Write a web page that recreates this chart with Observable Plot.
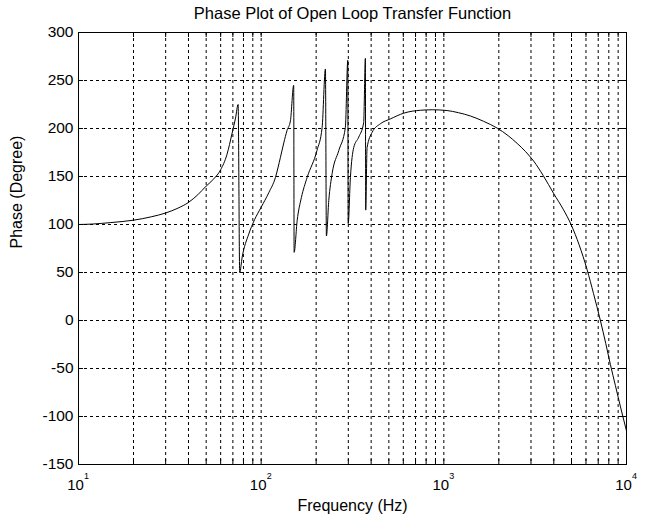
<!DOCTYPE html>
<html>
<head>
<meta charset="utf-8">
<script src="https://cdn.jsdelivr.net/npm/d3@7"></script>
<script src="https://cdn.jsdelivr.net/npm/@observablehq/plot@0.6"></script>
<style>
  html, body { margin: 0; padding: 0; background: #fff; }
  svg { display: block; }
</style>
</head>
<body>
<div id="chart"></div>
<script>
const titleText = "Phase Plot of Open Loop Transfer Function";
const xLabelText = "Frequency (Hz)";
const yLabelText = "Phase (Degree)";

// Frequency (Hz) and phase (degrees)
const freq = [10, 12, 15, 20, 25, 30, 35, 40, 45, 50,
  55, 60, 65, 69.3, 72.4, 74.8, 76.3, 78.7, 85.5, 92,
  100, 110, 119.7, 127.5, 133, 138.6, 144.6, 150.7, 151.5, 157.4,
  166, 178.5, 202, 215.6, 224.8, 227.6, 234.5, 244.6, 266, 289,
  298, 299.5, 308, 321, 342, 364, 372, 373.5, 380, 405,
  450, 510, 604, 745, 870, 1042, 1200, 1400, 1650, 1959,
  2250, 2519, 2800, 3104, 3500, 4000, 4500, 5000, 5500, 6085,
  6600, 7195, 7700, 8166, 8700, 9270, 10000];
const phase = [100, 100.5, 102, 104.5, 108, 112, 117, 123, 131, 140,
  147.5, 157, 173, 195, 211, 225, 50, 66, 90, 105,
  118, 133, 149, 170, 185, 198, 208, 245, 71, 104,
  128, 149, 177, 201, 262, 88, 125, 153, 177, 201,
  271, 101, 149, 180, 191, 206, 273, 115, 180, 196,
  205, 210, 216, 219, 219.5, 218.7, 216.5, 213, 207.5, 200.4,
  192.5, 184.5, 176, 166, 151, 132, 116, 99, 79, 53,
  28, 0, -24, -46, -68, -90, -115];

const yTicks = [-150, -100, -50, 0, 50, 100, 150, 200, 250, 300];
const xDecades = [10, 100, 1000, 10000];
const xExponents = ["1", "2", "3", "4"];
const xMinor = [20, 30, 40, 50, 60, 70, 80, 90, 200, 300, 400, 500, 600, 700, 800, 900,
  2000, 3000, 4000, 5000, 6000, 7000, 8000, 9000];

const data = freq.map((f, i) => ({f, p: phase[i]}));
const xGrid = xMinor.concat([100, 1000]);
const yGrid = yTicks.slice(1, -1);

const W = 649, H = 521;
const mL = 78, mR = 23, mT = 32, mB = 57;
const plotW = W - mL - mR, plotH = H - mT - mB;
const font = "'Liberation Sans', Arial, Helvetica, sans-serif";

const chart = Plot.plot({
  width: W, height: H,
  marginLeft: mL, marginRight: mR, marginTop: mT, marginBottom: mB,
  x: {type: "log", domain: [10, 10000], axis: null},
  y: {domain: [-150, 300], axis: null},
  style: {fontFamily: font, fontSize: "15px", background: "#fff", color: "#000"},
  marks: [
    Plot.ruleX(xGrid, {x: d => d, stroke: "#000", strokeWidth: 1, strokeDasharray: "3,3"}),
    Plot.ruleY(yGrid, {y: d => d, stroke: "#000", strokeWidth: 1, strokeDasharray: "3,3"}),
    // inward tick marks
    Plot.ruleX(xGrid, {x: d => d, insetTop: plotH - 5, stroke: "#000"}),
    Plot.ruleX(xGrid, {x: d => d, insetBottom: plotH - 5, stroke: "#000"}),
    Plot.ruleY(yTicks, {y: d => d, insetRight: plotW - 5, stroke: "#000"}),
    Plot.ruleY(yTicks, {y: d => d, insetLeft: plotW - 5, stroke: "#000"}),
    Plot.line(data, {x: "f", y: "p", stroke: "#000", strokeWidth: 1, curve: "monotone-x"}),
    Plot.frame({stroke: "#000", strokeWidth: 1}),
    // y tick labels
    Plot.text(yTicks, {y: d => d, frameAnchor: "left", textAnchor: "end", lineAnchor: "middle", dx: -5, text: d => String(d), fontSize: 15.5}),
    // x tick labels: 10 with superscript exponent
    Plot.text(xDecades, {x: d => d, frameAnchor: "bottom", lineAnchor: "middle", dy: 21, dx: -3, text: () => "10", fontSize: 15}),
    Plot.text(xExponents, {x: (d, i) => xDecades[i], frameAnchor: "bottom", lineAnchor: "middle", dy: 12, dx: 8, text: d => d, fontSize: 9}),
    // title and axis labels
    Plot.text([titleText], {frameAnchor: "top", lineAnchor: "middle", dy: -19, text: d => d, fontSize: 16.5}),
    Plot.text([xLabelText], {frameAnchor: "bottom", lineAnchor: "middle", dy: 41, text: d => d, fontSize: 16}),
    Plot.text([yLabelText], {frameAnchor: "left", lineAnchor: "middle", dx: -62, rotate: -90, text: d => d, fontSize: 16})
  ]
});
document.getElementById("chart").appendChild(chart);
</script>
</body>
</html>
